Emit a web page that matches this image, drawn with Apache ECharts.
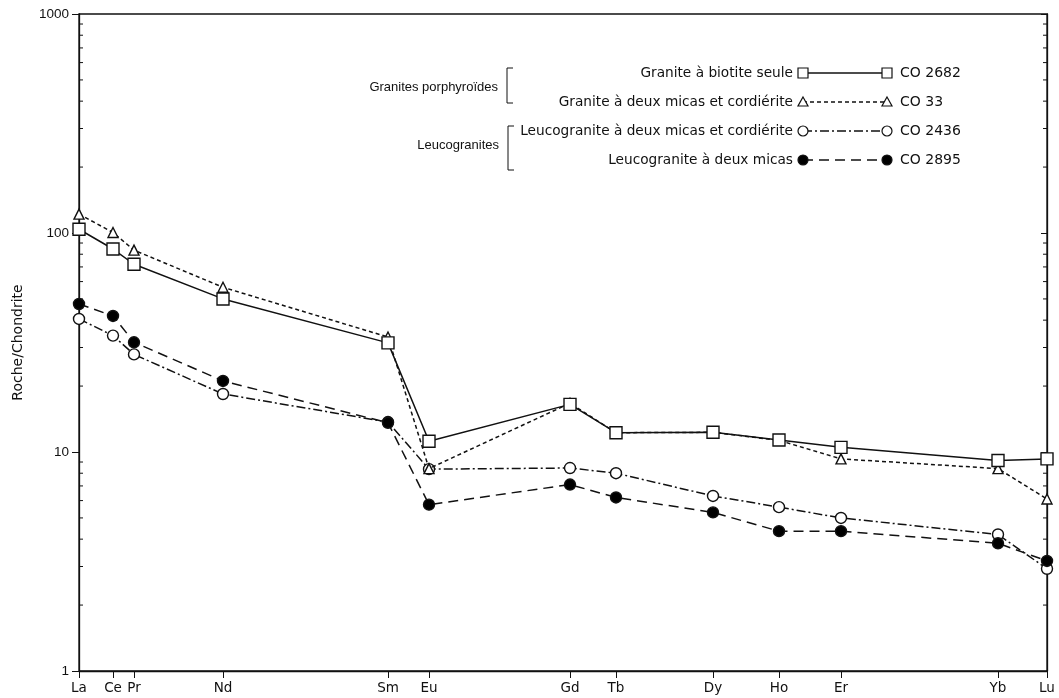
<!DOCTYPE html>
<html>
<head>
<meta charset="utf-8">
<script src="https://cdn.jsdelivr.net/npm/echarts@6/dist/echarts.min.js"></script>
<style>
html,body{margin:0;padding:0;background:#fff;}
#chart{width:1059px;height:698px;}
</style>
</head>
<body>
<div id="chart"></div>
<script>
// Rare-earth elements and their abscissa along the x axis (relative units)
const elements = ['La','Ce','Pr','Nd','Sm','Eu','Gd','Tb','Dy','Ho','Er','Yb','Lu'];
const abscissa = [0, 34, 55, 144, 309, 350, 491, 537, 634, 700, 762, 919, 968];

// Chondrite-normalised values
const co2682 = [104, 84.5, 72, 50, 31.5, 11.2, 16.5, 12.25, 12.3, 11.35, 10.5, 9.15, 9.3];
const co33   = [122, 100.5, 83.5, 56.5, 33.5, 8.4, 16.7, 12.25, 12.3, 11.3, 9.3, 8.4, 6.1];
const co2436 = [40.5, 34, 27.9, 18.4, 13.7, 8.35, 8.45, 8.0, 6.3, 5.6, 5.0, 4.2, 2.93];
const co2895 = [47.4, 41.8, 31.7, 21.1, 13.6, 5.75, 7.1, 6.2, 5.3, 4.35, 4.35, 3.83, 3.18];

const yTicks = [1, 10, 100, 1000];
const minorTicks = [2,3,4,5,6,7,8,9,20,30,40,50,60,70,80,90,200,300,400,500,600,700,800,900];

const legendRows = [
  {label: 'Granite à biotite seule', code: 'CO 2682'},
  {label: 'Granite à deux micas et cordiérite', code: 'CO 33'},
  {label: 'Leucogranite à deux micas et cordiérite', code: 'CO 2436'},
  {label: 'Leucogranite à deux micas', code: 'CO 2895'}
];
const groups = ['Granites porphyroïdes', 'Leucogranites'];

const FONT = '"Liberation Sans", Arial, sans-serif';
const LFONT = '"DejaVu Sans", sans-serif';
const INK = '#111';

function pairs(vals){ return vals.map((v,i)=>[abscissa[i], v]); }

const styles = [
  {data: co2436, symbol: 'circle', size: 11, fill: '#fff', dash: [9,3,2,3], z: 3},
  {data: co2895, symbol: 'circle', size: 11, fill: '#000', dash: [10,6], z: 4},
  {data: co33, symbol: 'triangle', size: 10, fill: '#fff', dash: [4,3], z: 5},
  {data: co2682, symbol: 'rect', size: 12, fill: '#fff', dash: 'solid', z: 6}
];

const series = styles.map(s => ({
  type: 'line',
  data: pairs(s.data),
  symbol: s.symbol,
  symbolSize: s.size,
  showSymbol: true,
  z: s.z,
  lineStyle: {color: INK, width: 1.5, type: s.dash},
  itemStyle: {color: s.fill, borderColor: INK, borderWidth: 1.4},
  emphasis: {disabled: true},
  animation: false
}));

series.push({
  type: 'custom',
  silent: true,
  animation: false,
  data: minorTicks.map(v => [0, v]),
  renderItem: function(params, api){
    const v = api.value(1);
    const pl = api.coord([abscissa[0], v]);
    const pr = api.coord([abscissa[abscissa.length-1], v]);
    return {type: 'group', children: [
      {type: 'line', shape: {x1: pl[0], y1: pl[1], x2: pl[0]+4, y2: pl[1]}, style: {stroke: INK, lineWidth: 1}},
      {type: 'line', shape: {x1: pr[0]-4, y1: pr[1], x2: pr[0], y2: pr[1]}, style: {stroke: INK, lineWidth: 1}}
    ]};
  }
});

// legend graphics
const rowY = [73, 102, 131, 160];
const textRight = 793, symL = 803, symR = 887, codeX = 900;
const graphics = [];
const legendStyles = [
  {sym: 'rect', fill: '#fff', dash: null},
  {sym: 'tri', fill: '#fff', dash: [4,3]},
  {sym: 'circ', fill: '#fff', dash: [9,3,2,3]},
  {sym: 'circ', fill: '#000', dash: [10,6]}
];
function symGraphic(kind, x, y, fill){
  const st = {fill: fill, stroke: INK, lineWidth: 1.2};
  if (kind === 'rect') return {type: 'rect', shape: {x: x-5, y: y-5, width: 10, height: 10}, style: st, z: 20};
  if (kind === 'tri') return {type: 'polygon', shape: {points: [[x, y-5], [x+5, y+4], [x-5, y+4]]}, style: st, z: 20};
  return {type: 'circle', shape: {cx: x, cy: y, r: 5}, style: st, z: 20};
}
legendRows.forEach((r, i) => {
  const y = rowY[i];
  const ls = legendStyles[i];
  graphics.push({type: 'text', style: {text: r.label, x: textRight, y: y, align: 'right', verticalAlign: 'middle', font: '13.7px ' + LFONT, fill: INK}, z: 20});
  graphics.push({type: 'line', shape: {x1: symL, y1: y, x2: symR, y2: y}, style: {stroke: INK, lineWidth: 1.3, lineDash: ls.dash}, z: 19});
  graphics.push(symGraphic(ls.sym, symL, y, ls.fill));
  graphics.push(symGraphic(ls.sym, symR, y, ls.fill));
  graphics.push({type: 'text', style: {text: r.code, x: codeX, y: y, align: 'left', verticalAlign: 'middle', font: '14px ' + LFONT, fill: INK}, z: 20});
});
graphics.push({type: 'text', style: {text: groups[0], x: 498, y: 87, align: 'right', verticalAlign: 'middle', font: '13px ' + FONT, fill: INK}, z: 20});
graphics.push({type: 'polyline', shape: {points: [[513, 68], [507, 68], [507, 103], [513, 103]]}, style: {stroke: INK, lineWidth: 1, fill: null}, z: 20});
graphics.push({type: 'text', style: {text: groups[1], x: 499, y: 145, align: 'right', verticalAlign: 'middle', font: '13px ' + FONT, fill: INK}, z: 20});
graphics.push({type: 'polyline', shape: {points: [[514, 126], [508, 126], [508, 170], [514, 170]]}, style: {stroke: INK, lineWidth: 1, fill: null}, z: 20});

const chart = echarts.init(document.getElementById('chart'), null, {renderer: 'canvas'});
chart.setOption({
  backgroundColor: '#fff',
  animation: false,
  grid: {left: 79, right: 12, top: 14, bottom: 27, show: true, borderColor: INK, borderWidth: 1.3, backgroundColor: 'transparent'},
  xAxis: [{
    type: 'value',
    min: abscissa[0],
    max: abscissa[abscissa.length-1],
    splitLine: {show: false},
    axisLine: {show: true, onZero: false, lineStyle: {color: INK, width: 1.3}},
    axisTick: {show: true, length: 7, lineStyle: {color: INK}, customValues: abscissa},
    axisLabel: {
      customValues: abscissa,
      margin: 10,
      color: INK,
      fontFamily: LFONT,
      fontSize: 13.5,
      formatter: function(v){ const i = abscissa.indexOf(v); return i >= 0 ? elements[i] : ''; }
    }
  }],
  yAxis: [{
    type: 'log',
    logBase: 10,
    min: yTicks[0],
    max: yTicks[yTicks.length-1],
    name: 'Roche/Chondrite',
    nameLocation: 'middle',
    nameGap: 54,
    nameRotate: 90,
    nameTextStyle: {color: INK, fontFamily: LFONT, fontSize: 14},
    splitLine: {show: false},
    minorTick: {show: false},
    axisLine: {show: true, lineStyle: {color: INK, width: 1.3}},
    axisTick: {show: true, length: 7, lineStyle: {color: INK}},
    axisLabel: {color: INK, fontFamily: FONT, fontSize: 13.5, margin: 10, formatter: v => String(Math.round(v))}
  }, {
    type: 'log',
    logBase: 10,
    min: yTicks[0],
    max: yTicks[yTicks.length-1],
    position: 'right',
    splitLine: {show: false},
    axisLine: {show: true, lineStyle: {color: INK, width: 1.3}},
    axisTick: {show: true, inside: true, length: 6, lineStyle: {color: INK}},
    axisLabel: {show: false}
  }],
  series: series,
  graphic: graphics
});
</script>
</body>
</html>
